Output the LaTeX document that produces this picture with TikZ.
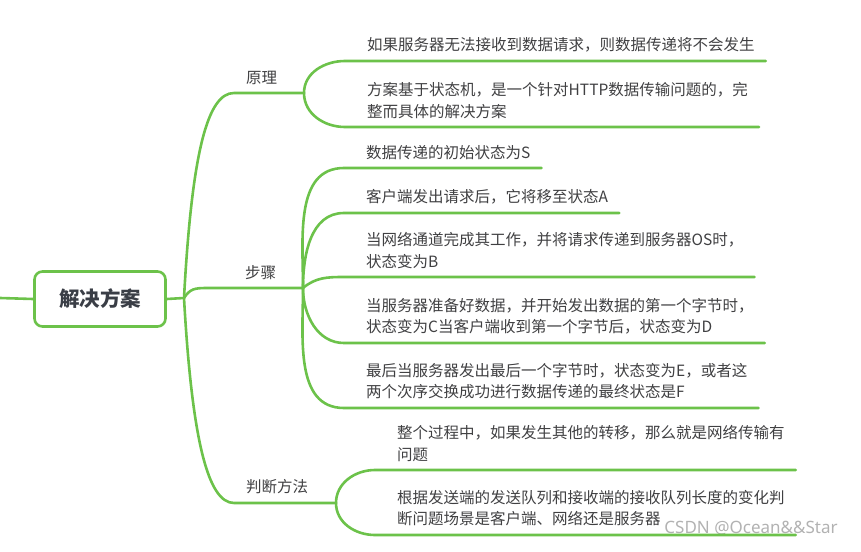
\documentclass[tikz,border=0pt]{standalone}
\usepackage{fontspec}
\setmainfont{Noto Sans CJK SC}
\setsansfont{Noto Sans}
\definecolor{mapgreen}{RGB}{108,194,74}
\definecolor{mapgray}{RGB}{64,64,66}
\definecolor{rootgray}{RGB}{58,62,70}
\begin{document}
\begin{tikzpicture}[x=1pt,y=-1pt,
  branch/.style={draw=mapgreen,line width=2.6pt,line cap=round},
  rootbox/.style={draw=mapgreen,line width=2.6pt,rounded corners=8pt,minimum width=131pt,minimum height=55pt,
    font=\fontsize{20.5}{24}\selectfont\bfseries,text=rootgray},
  leaf/.style={anchor=south west,inner xsep=0pt,inner ysep=8.5pt,align=left,text=mapgray,
    font=\fontsize{15.5}{21.5}\selectfont}]
\useasboundingbox (0,0) rectangle (861,551);

\node[rootbox] (root) at (100,299) {解决方案};
\coordinate (rootin) at (0,298);
\coordinate (jroot) at (184,298);

\node[leaf] (prin) at (246,93) {原理};
\node[leaf] (step) at (245,288) {步骤};
\node[leaf] (judge) at (246,503) {判断方法};
\coordinate (jprin) at (304,93);
\coordinate (jstep) at (303,288);
\coordinate (jjudge) at (336,503);

\node[leaf] (p1) at (367,61) {如果服务器无法接收到数据请求，则数据传递将不会发生};
\node[leaf] (p2) at (367,127) {方案基于状态机，是一个针对HTTP数据传输问题的，完\\整而具体的解决方案};

\node[leaf] (s1) at (366,168) {数据传递的初始状态为S};
\node[leaf] (s2) at (366,213) {客户端发出请求后，它将移至状态A};
\node[leaf] (s3) at (366,277) {当网络通道完成其工作，并将请求传递到服务器OS时，\\状态变为B};
\node[leaf] (s4) at (366,343) {当服务器准备好数据，并开始发出数据的第一个字节时，\\状态变为C当客户端收到第一个字节后，状态变为D};
\node[leaf] (s5) at (366,408) {最后当服务器发出最后一个字节时，状态变为E，或者这\\两个次序交换成功进行数据传递的最终状态是F};

\node[leaf] (j1) at (397,470) {整个过程中，如果发生其他的转移，那么就是网络传输有\\问题};
\node[leaf] (j2) at (397,535) {根据发送端的发送队列和接收端的接收队列长度的变化判\\断问题场景是客户端、网络还是服务器};

\node[text=black!30,font=\sffamily\fontsize{17}{20}\selectfont,inner sep=0pt] (csdn) at (751,528) {CSDN @Ocean\&\&Star};

\draw[branch] (rootin) -- (root.west);
\draw[branch] (root.east) -- (jroot);
\draw[branch] (jroot) .. controls (192,150) and (208,93) .. ([xshift=-12pt]prin.south west) -- (jprin);
\draw[branch] (jroot) .. controls (190,289) and (194,288) .. ([xshift=-38pt]step.south west) -- (jstep);
\draw[branch] (jroot) .. controls (192,440) and (208,503) .. ([xshift=-12pt]judge.south west) -- (jjudge);

\draw[branch] (jprin) to[out=90,in=180] ([xshift=-22pt]p1.south west) -- ([xshift=11pt]p1.south east);
\draw[branch] (jprin) to[out=-90,in=180] ([xshift=-22pt]p2.south west) -- ([xshift=11pt]p2.south east);

\draw[branch] (jstep) to[out=90,in=180] ([xshift=-22pt]s1.south west) -- ([xshift=11pt]s1.south east);
\draw[branch] (jstep) to[out=90,in=180] ([xshift=-22pt]s2.south west) -- ([xshift=11pt]s2.south east);
\draw[branch] (jstep) to[out=40,in=180] ([xshift=-22pt]s3.south west) -- ([xshift=11pt]s3.south east);
\draw[branch] (jstep) to[out=-90,in=180] ([xshift=-22pt]s4.south west) -- ([xshift=11pt]s4.south east);
\draw[branch] (jstep) to[out=-90,in=180] ([xshift=-22pt]s5.south west) -- ([xshift=11pt]s5.south east);

\draw[branch] (jjudge) to[out=90,in=180] ([xshift=-22pt]j1.south west) -- ([xshift=11pt]j1.south east);
\draw[branch] (jjudge) to[out=-90,in=180] ([xshift=-22pt]j2.south west) -- ([xshift=11pt]j2.south east);
\end{tikzpicture}
\end{document}
